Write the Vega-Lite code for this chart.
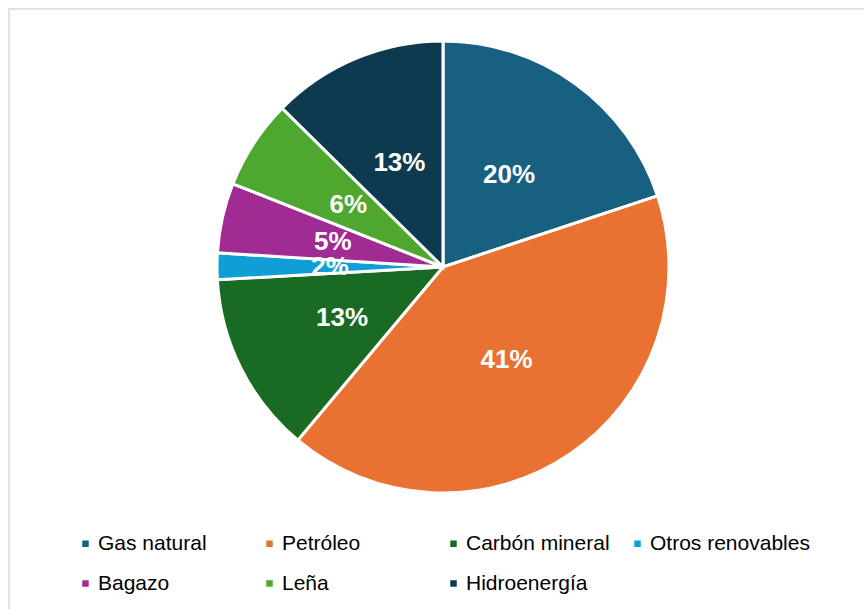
{
  "$schema": "https://vega.github.io/schema/vega-lite/v6.json",
  "width": 864,
  "height": 609,
  "autosize": {"type": "fit", "contains": "padding"},
  "padding": {"left": 9, "top": 9, "right": -6, "bottom": -6},
  "background": "white",
  "view": {"stroke": "#d9d9d9", "strokeWidth": 1.5},
  "config": {
    "font": "Liberation Sans"
  },
  "data": {
    "values": [
      {"fuente": "Gas natural", "orden": 1, "participacion": 0.199},
      {"fuente": "Petróleo", "orden": 2, "participacion": 0.412},
      {"fuente": "Carbón mineral", "orden": 3, "participacion": 0.130},
      {"fuente": "Otros renovables", "orden": 4, "participacion": 0.019},
      {"fuente": "Bagazo", "orden": 5, "participacion": 0.050},
      {"fuente": "Leña", "orden": 6, "participacion": 0.064},
      {"fuente": "Hidroenergía", "orden": 7, "participacion": 0.126}
    ]
  },
  "encoding": {
    "theta": {"field": "participacion", "type": "quantitative", "stack": true},
    "order": {"field": "orden", "type": "quantitative"},
    "color": {
      "field": "fuente",
      "type": "nominal",
      "scale": {
        "domain": ["Gas natural", "Petróleo", "Carbón mineral", "Otros renovables", "Bagazo", "Leña", "Hidroenergía"],
        "range": ["#17607F", "#E97132", "#196B24", "#0F9ED5", "#A02B93", "#4EA72E", "#0E3A50"]
      },
      "legend": {
        "title": null,
        "orient": "none",
        "direction": "horizontal",
        "columns": 4,
        "gridAlign": "all",
        "legendX": 66,
        "legendY": 524,
        "symbolType": "square",
        "symbolSize": 42,
        "symbolStrokeWidth": 0,
        "labelFont": "Liberation Sans",
        "labelFontSize": 21,
        "labelColor": "#000000",
        "labelOffset": 2,
        "labelLimit": 300,
        "columnPadding": 1,
        "rowPadding": 18,
        "padding": 0
      }
    }
  },
  "layer": [
    {
      "mark": {"type": "arc", "x": 434, "y": 258, "outerRadius": 226, "stroke": "white", "strokeWidth": 3}
    },
    {
      "mark": {
        "type": "text",
        "x": 434,
        "y": 258,
        "radius": 113,
        "font": "Liberation Sans",
        "fontSize": 26,
        "fontWeight": "bold",
        "fill": "white",
        "align": "center",
        "baseline": "middle"
      },
      "encoding": {
        "text": {"field": "participacion", "type": "quantitative", "format": ".0%"},
        "color": {"value": "white"}
      }
    }
  ]
}
